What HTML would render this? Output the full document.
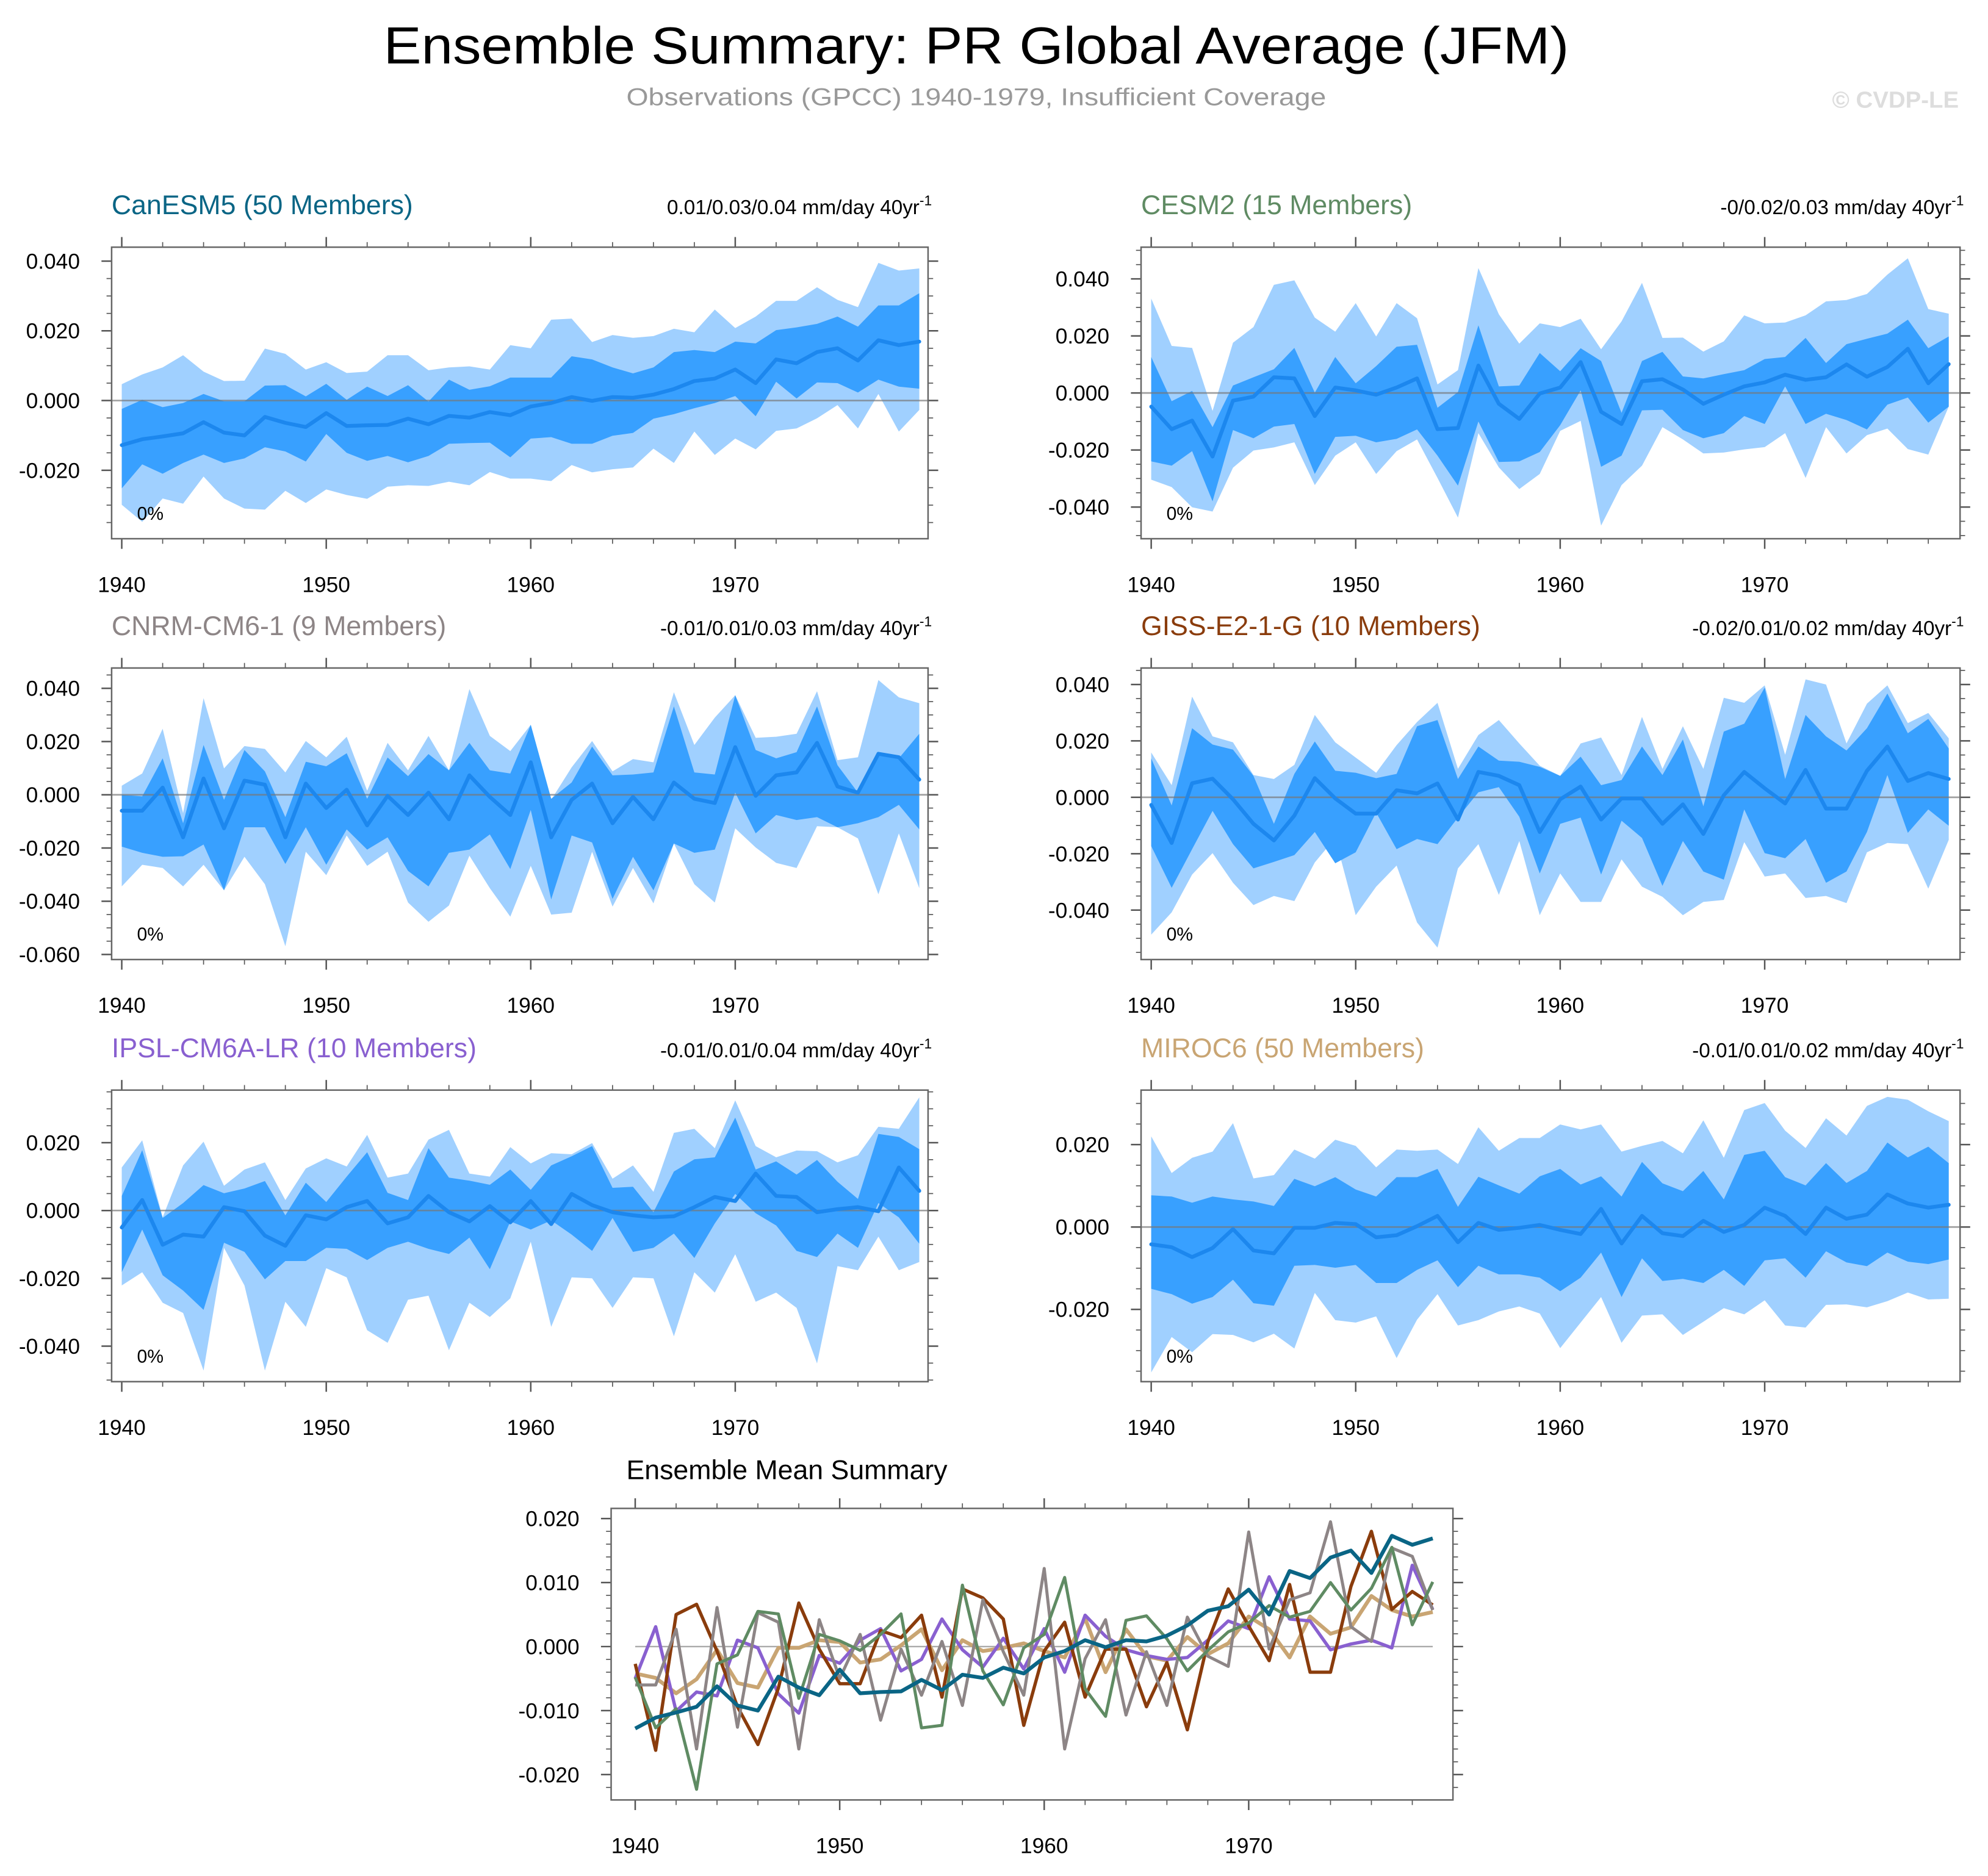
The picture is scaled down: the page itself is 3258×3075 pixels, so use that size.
<!DOCTYPE html>
<html><head><meta charset="utf-8"><title>Ensemble Summary: PR Global Average (JFM)</title>
<style>html,body{margin:0;padding:0;background:#fff}svg{display:block}text{font-family:"Liberation Sans",Arial,sans-serif}</style>
</head><body>
<svg id="chart" xmlns="http://www.w3.org/2000/svg" width="3258" height="3075" viewBox="0 0 1568 1480">
<rect x="0" y="0" width="1568" height="1480" fill="#fff"/>
<text x="770" y="50" font-size="41" text-anchor="middle" textLength="935" lengthAdjust="spacingAndGlyphs" fill="#000">Ensemble Summary: PR Global Average (JFM)</text>
<text x="770" y="83" font-size="19" text-anchor="middle" textLength="552" lengthAdjust="spacingAndGlyphs" fill="#999">Observations (GPCC) 1940-1979, Insufficient Coverage</text>
<text x="1545" y="85" font-size="18.5" font-weight="bold" text-anchor="end" fill="#ddd">© CVDP-LE</text>
<g id="plots"></g>
</svg>
<script>
// ---- data (values in 0.001 mm/day) ----
const startYear = 1940;
const nYears = 40;
const modelNames = ["CanESM5 (50 Members)","CESM2 (15 Members)","CNRM-CM6-1 (9 Members)","GISS-E2-1-G (10 Members)","IPSL-CM6A-LR (10 Members)","MIROC6 (50 Members)"];
const trendLabels = ["0.01/0.03/0.04 mm/day 40yr","-0/0.02/0.03 mm/day 40yr","-0.01/0.01/0.03 mm/day 40yr","-0.02/0.01/0.02 mm/day 40yr","-0.01/0.01/0.04 mm/day 40yr","-0.01/0.01/0.02 mm/day 40yr"];

const canMean = [-12.8,-11.1,-10.3,-9.4,-6.2,-9.2,-10.0,-4.7,-6.4,-7.6,-3.6,-7.3,-7.1,-7.0,-5.2,-6.8,-4.4,-4.9,-3.3,-4.2,-1.7,-0.7,1.0,-0.1,1.0,0.8,1.7,3.3,5.6,6.3,8.9,5.0,11.8,10.7,13.9,15.0,11.5,17.3,15.9,16.9];
const canInHi = [-2.4,0.2,-1.9,-0.7,1.9,-0.2,-0.2,4.3,4.4,1.2,4.8,0.2,4.0,1.3,4.4,-0.3,6.0,3.1,4.1,6.6,6.6,6.6,12.7,11.8,9.5,7.8,9.5,13.9,14.5,13.9,16.9,16.4,20.2,21.0,22.0,24.1,21.2,27.3,27.3,30.8];
const canInLo = [-25.2,-18.3,-21.0,-17.9,-15.5,-17.9,-16.6,-13.4,-14.6,-17.5,-9.6,-15.0,-17.3,-15.9,-17.7,-15.9,-12.4,-12.2,-12.1,-16.3,-10.9,-10.5,-12.4,-12.4,-10.1,-9.3,-5.2,-3.9,-2.2,-0.7,1.3,-4.5,5.4,0.6,5.2,5.0,2.3,6.0,4.0,3.4];
const canOutHi = [4.7,7.5,9.5,13.0,8.3,5.6,5.7,14.9,13.4,8.9,11.0,7.9,8.3,13.0,13.0,8.7,9.5,9.8,8.9,15.9,15.0,23.2,23.5,16.8,18.8,18.0,18.5,20.6,19.6,26.1,20.8,24.1,28.6,28.6,32.5,28.9,26.8,39.5,37.3,37.9];
const canOutLo = [-29.9,-34.8,-28.1,-29.6,-21.8,-28.1,-31.0,-31.3,-25.9,-29.4,-25.5,-27.1,-28.2,-24.7,-24.3,-24.5,-23.3,-24.3,-20.5,-22.4,-22.4,-23.1,-18.5,-20.6,-19.7,-19.2,-13.8,-17.9,-8.9,-15.6,-10.9,-14.0,-8.7,-8.0,-5.1,-1.3,-8.0,1.9,-8.9,-2.7];

const cesmMean = [-4.8,-12.7,-9.7,-22.3,-2.7,-1.3,5.5,5.1,-8.1,1.9,0.9,-0.6,1.9,5.1,-12.7,-12.3,9.6,-3.8,-9.1,-0.2,1.9,10.8,-6.6,-10.9,4.1,4.8,1.2,-3.8,-0.6,2.3,3.7,6.4,4.6,5.5,10.0,5.7,9.1,15.5,3.4,10.1];
const cesmInHi = [12.6,-2.9,0.7,-12.0,2.6,5.5,8.3,15.8,0.1,12.6,3.4,9.4,16.2,16.9,-5.2,0.3,23.7,2.3,2.6,14.0,7.6,15.7,11.2,-7.0,11.2,14.4,5.8,5.1,6.6,8.0,11.9,12.6,19.3,10.5,17.1,19.0,20.8,25.7,15.7,19.8];
const cesmInLo = [-24.0,-25.5,-20.4,-38.0,-13.0,-15.9,-11.8,-10.9,-28.4,-15.4,-15.0,-17.3,-16.1,-12.8,-22.0,-32.5,-10.0,-24.2,-24.0,-20.7,-11.3,0.9,-25.9,-22.0,-6.1,-5.9,-13.0,-15.9,-14.1,-8.1,-10.9,2.3,-10.9,-7.3,-9.5,-12.8,-4.1,-1.6,-10.4,-4.8];
const cesmOutHi = [33.1,16.5,15.8,-6.3,17.6,23.1,37.9,39.5,26.4,21.5,31.5,19.8,31.5,26.2,3.0,8.0,43.8,27.6,17.3,24.4,23.1,26.0,15.3,25.1,38.6,19.3,19.4,14.5,18.1,27.2,24.4,24.7,27.2,32.1,32.6,34.7,41.5,47.2,29.4,27.8];
const cesmOutLo = [-30.4,-33.0,-40.1,-41.6,-26.2,-20.2,-19.1,-17.3,-32.3,-22.0,-17.3,-28.4,-20.4,-16.3,-29.8,-43.7,-14.1,-26.1,-33.7,-28.4,-13.3,-9.8,-46.5,-32.3,-25.5,-12.0,-16.3,-21.2,-20.9,-19.8,-19.0,-14.1,-29.8,-12.0,-21.2,-14.8,-12.5,-19.7,-21.6,-4.8];

const cnrmMean = [-6.0,-6.0,2.7,-16.0,6.1,-12.6,5.3,3.8,-16.0,4.2,-5.0,1.9,-11.5,-0.4,-7.6,0.8,-9.2,7.3,-0.8,-7.6,12.2,-16.0,-1.9,4.2,-10.7,-0.8,-9.2,4.6,-1.5,-3.1,17.9,-0.4,7.3,8.4,19.5,3.1,0.8,15.4,14.1,5.7];
const cnrmInHi = [0.0,-0.6,13.7,-10.7,18.7,-1.9,16.8,8.8,-8.4,12.4,10.7,15.6,-1.5,14.0,7.0,15.3,9.2,19.5,9.2,8.0,26.3,-1.5,4.6,18.1,7.3,7.6,8.4,33.2,8.4,7.6,37.4,16.8,13.7,16.0,33.2,11.1,0.8,15.7,13.7,22.9];
const cnrmInLo = [-19.5,-21.8,-23.3,-23.1,-18.7,-35.9,-12.2,-12.2,-26.0,-12.2,-26.3,-13.0,-20.6,-16.0,-28.6,-34.4,-21.8,-20.6,-14.9,-27.9,-5.7,-39.3,-15.3,-17.9,-39.1,-23.3,-35.9,-18.3,-21.8,-20.6,0.8,-14.5,-7.6,-9.5,-8.4,-12.2,-10.7,-8.4,-3.8,-13.0];
const cnrmOutHi = [3.4,8.0,24.8,-6.9,36.3,9.9,18.3,17.2,8.4,20.2,14.1,21.8,1.5,19.5,9.2,22.1,9.2,39.7,22.1,16.4,26.3,-1.9,10.3,20.2,8.8,13.4,12.2,38.5,18.7,29.0,37.4,21.4,21.8,22.9,38.9,13.0,14.1,43.1,36.6,34.4];
const cnrmOutLo = [-34.4,-26.3,-27.5,-34.4,-26.3,-35.9,-23.3,-33.6,-56.9,-21.4,-30.2,-15.3,-26.7,-21.4,-40.5,-47.7,-41.6,-22.9,-35.1,-45.8,-26.7,-45.0,-44.3,-21.4,-42.0,-27.5,-40.8,-18.3,-33.6,-40.5,-12.6,-19.8,-25.6,-27.5,-11.8,-12.2,-16.4,-37.4,-14.5,-35.1];

const gissMean = [-2.7,-16.2,5.0,6.6,-0.7,-9.4,-15.3,-6.5,6.8,-0.4,-5.8,-5.8,2.5,1.4,4.9,-7.9,9.0,7.6,4.3,-12.3,-0.7,3.8,-7.9,-0.4,-0.4,-9.4,-2.5,-13.0,0.7,9.0,3.2,-2.2,9.7,-4.0,-4.0,9.4,18.0,5.8,8.6,6.5];
const gissInHi = [13.8,-2.9,24.5,18.7,16.9,7.6,-9.4,8.3,19.8,9.4,8.7,6.8,8.3,25.2,27.4,6.5,18.0,13.0,12.6,10.8,7.6,14.4,4.3,6.1,18.0,7.9,20.5,-3.2,23.3,26.1,38.9,6.5,29.2,21.6,16.6,24.5,36.8,22.7,27.8,17.3];
const gissInLo = [-17.3,-32.1,-18.4,-4.8,-16.6,-25.2,-22.9,-20.5,-12.3,-23.4,-19.5,-5.4,-18.4,-14.8,-16.6,-7.2,1.8,3.6,-6.9,-27.0,-9.4,-7.2,-27.4,-8.3,-14.4,-31.4,-15.5,-26.3,-29.2,-4.3,-19.8,-21.6,-14.8,-30.3,-26.3,-12.3,7.9,-12.6,-4.3,-10.1];
const gissOutHi = [15.9,4.3,35.7,21.6,19.5,7.9,6.5,11.5,29.2,19.5,14.1,8.7,18.5,26.7,33.5,10.1,22.1,27.4,19.1,11.2,7.6,19.1,21.2,7.9,28.5,10.1,25.2,10.1,35.3,33.5,39.7,15.1,41.8,40.0,19.1,33.2,39.7,26.3,29.9,20.9];
const gissOutLo = [-48.7,-40.8,-27.4,-19.8,-30.3,-38.2,-35.0,-36.8,-23.1,-14.4,-41.8,-31.7,-24.2,-44.4,-53.3,-25.2,-16.6,-34.6,-15.5,-41.8,-27.0,-37.1,-37.1,-22.0,-31.7,-35.3,-41.8,-37.1,-36.4,-15.9,-28.1,-27.0,-35.7,-35.0,-37.5,-19.5,-16.2,-16.6,-32.4,-15.1];

const ipslMean = [-5.0,3.1,-10.1,-7.1,-7.7,1.0,-0.2,-7.4,-10.4,-1.4,-2.6,1.0,2.8,-3.8,-2.0,4.3,-0.5,-3.2,1.3,-3.5,2.8,-4.0,4.9,1.6,-0.5,-1.4,-2.0,-1.7,1.0,4.0,2.8,10.9,4.3,4.0,-0.5,0.4,1.0,-0.2,12.7,5.8];
const ipslInHi = [4.3,17.8,-2.2,2.2,7.5,5.1,6.5,8.7,-1.4,8.2,2.5,10.0,17.2,5.2,3.1,18.4,9.7,8.8,7.6,12.1,6.1,13.3,16.0,19.0,6.7,7.0,-0.5,11.5,15.1,15.7,27.4,12.1,14.5,10.6,14.9,8.5,3.4,22.6,21.7,18.1];
const ipslInLo = [-18.2,-5.6,-19.1,-23.6,-29.3,-9.5,-12.2,-20.3,-14.9,-14.9,-11.0,-11.3,-14.6,-11.0,-9.2,-11.3,-12.8,-8.0,-17.3,-3.2,-5.6,-2.9,-7.1,-11.9,-2.2,-12.2,-11.0,-6.8,-14.0,-3.8,4.9,-0.8,-4.4,-11.9,-13.7,-6.8,-11.0,2.2,-2.0,-9.8];
const ipslOutHi = [12.7,20.7,-2.0,13.3,20.3,7.3,12.1,14.2,3.1,12.4,15.4,13.0,22.3,9.7,10.9,20.9,23.8,10.9,10.0,18.7,13.9,16.9,16.6,19.9,9.4,13.3,5.5,22.9,24.1,18.4,32.5,19.0,15.7,17.7,17.5,14.2,16.3,24.7,24.1,33.4];
const ipslOutLo = [-22.1,-18.2,-27.2,-30.2,-47.2,-11.0,-22.1,-47.2,-26.9,-34.3,-17.0,-19.7,-35.3,-39.0,-26.3,-25.1,-41.2,-27.2,-31.4,-25.9,-9.2,-34.3,-19.7,-20.0,-28.7,-19.7,-20.0,-37.1,-18.2,-24.2,-12.9,-26.9,-24.2,-28.7,-45.1,-16.4,-17.6,-7.7,-17.6,-15.2];

const mirocMean = [-4.2,-4.9,-7.3,-5.1,-0.5,-5.7,-6.4,-0.2,-0.2,1.0,0.7,-2.5,-2.0,0.2,2.7,-3.7,1.0,-0.7,-0.2,0.5,-0.7,-1.7,4.4,-4.0,2.7,-1.5,-2.2,1.5,-1.2,0.5,4.7,2.7,-1.7,4.7,2.0,3.0,7.9,5.7,4.7,5.4];
const mirocInHi = [7.7,7.4,5.9,7.4,6.7,6.2,5.1,11.7,9.9,12.1,9.1,7.4,12.1,12.1,14.1,4.9,12.2,10.1,8.1,12.3,14.1,10.3,12.3,7.4,15.8,10.6,8.7,13.6,6.7,17.5,18.5,12.1,10.1,15.5,10.7,13.6,20.5,16.9,19.5,15.5];
const mirocInLo = [-15.0,-16.3,-18.6,-17.0,-12.8,-18.5,-19.1,-9.4,-9.2,-9.9,-9.2,-13.6,-13.6,-10.4,-8.1,-14.6,-9.4,-11.5,-11.5,-12.3,-15.6,-12.3,-6.2,-17.0,-7.6,-13.1,-12.6,-13.6,-10.4,-14.3,-8.1,-7.6,-12.3,-5.9,-8.6,-9.5,-6.2,-8.4,-9.0,-7.9];
const mirocOutHi = [22.0,13.1,16.8,18.3,25.2,11.8,12.6,18.8,16.6,21.2,19.7,14.5,18.8,18.5,18.8,15.3,24.2,18.5,21.6,21.6,24.9,23.7,24.9,18.3,19.7,20.9,17.9,25.9,16.8,28.4,30.1,23.4,19.2,26.4,22.2,29.4,31.6,30.9,28.1,25.7];
const mirocOutLo = [-35.3,-26.7,-30.4,-26.0,-26.2,-28.0,-25.9,-29.5,-16.0,-22.6,-23.2,-21.7,-31.8,-22.5,-16.3,-23.9,-22.6,-20.5,-19.3,-21.0,-29.4,-23.2,-17.0,-28.1,-21.5,-21.2,-26.2,-23.0,-19.7,-21.2,-17.8,-23.9,-24.4,-18.9,-18.8,-19.5,-18.0,-15.9,-17.6,-17.4];

const panel1Ticks = [40,20,0,-20];
const panel2Ticks = [40,20,0,-20,-40];
const panel3Ticks = [40,20,0,-20,-40,-60];
const panel4Ticks = [40,20,0,-20,-40];
const panel5Ticks = [20,0,-20,-40];
const panel6Ticks = [20,0,-20];
const summaryTicks = [20,10,0,-10,-20];
const xTickLabels = [1940,1950,1960,1970];

// ---- rendering ----
const NS = "http://www.w3.org/2000/svg";
const root = document.getElementById("plots");
function el(tag, attrs, parent) {
  const e = document.createElementNS(NS, tag);
  for (const k in attrs) e.setAttribute(k, attrs[k]);
  (parent || root).appendChild(e);
  return e;
}
const modelColors = ["#0a6585","#5f8b63","#8d8586","#8a3c0c","#8960d0","#c9a573"];
const panels = [
  {name:"canesm5", box:[88,195,644,230], x0:96, zero:316, k:2.75, mean:canMean, inHi:canInHi, inLo:canInLo, outHi:canOutHi, outLo:canOutLo, ticks:panel1Ticks, tmin:-35, tmax:40},
  {name:"cesm2", box:[900,195,646,230], x0:908, zero:310, k:2.25, mean:cesmMean, inHi:cesmInHi, inLo:cesmInLo, outHi:cesmOutHi, outLo:cesmOutLo, ticks:panel2Ticks, tmin:-50, tmax:50},
  {name:"cnrm-cm6-1", box:[88,527,644,230], x0:96, zero:627, k:2.1, mean:cnrmMean, inHi:cnrmInHi, inLo:cnrmInLo, outHi:cnrmOutHi, outLo:cnrmOutLo, ticks:panel3Ticks, tmin:-60, tmax:45},
  {name:"giss-e2-1-g", box:[900,527,646,230], x0:908, zero:629, k:2.225, mean:gissMean, inHi:gissInHi, inLo:gissInLo, outHi:gissOutHi, outLo:gissOutLo, ticks:panel4Ticks, tmin:-55, tmax:45},
  {name:"ipsl-cm6a-lr", box:[88,860,644,230], x0:96, zero:955, k:2.675, mean:ipslMean, inHi:ipslInHi, inLo:ipslInLo, outHi:ipslOutHi, outLo:ipslOutLo, ticks:panel5Ticks, tmin:-50, tmax:35},
  {name:"miroc6", box:[900,860,646,230], x0:908, zero:968, k:3.25, mean:mirocMean, inHi:mirocInHi, inLo:mirocInLo, outHi:mirocOutHi, outLo:mirocOutLo, ticks:panel6Ticks, tmin:-35, tmax:30}
];
const xStep = 16.13;
function fmt(v){ const s=(Math.abs(v)/1000).toFixed(3); return v<0? "-"+s : s; }

function drawAxes(g, p, yStepMinor, labelSize) {
  const [bx,by,bw,bh] = p.box;
  const xs = y => p.x0 + (y - startYear) * xStep;
  const ys = v => p.zero - v * p.k;
  for (let yr = startYear; yr < startYear + nYears; yr += 2) {
    const major = (yr % 10 === 0);
    const L = major ? 8 : 4;
    const x = xs(yr);
    el("line",{x1:x,y1:by+bh,x2:x,y2:by+bh+L,stroke:"#555","stroke-width":major?1.2:0.8},g);
    el("line",{x1:x,y1:by,x2:x,y2:by-L,stroke:"#555","stroke-width":major?1.2:0.8},g);
  }
  xTickLabels.forEach(yr=>{
    const t = el("text",{x:xs(yr),y:by+bh+42,"font-size":labelSize,"text-anchor":"middle",fill:"#000"},g);
    
    
    t.textContent = yr;
  });
  for (let v = Math.ceil(p.tmin/yStepMinor)*yStepMinor; v <= p.tmax; v += yStepMinor) {
    const y = ys(v);
    if (y < by - 0.5 || y > by + bh + 0.5) continue;
    const major = p.ticks.indexOf(v) >= 0;
    const L = major ? 8 : 4;
    el("line",{x1:bx,y1:y,x2:bx-L,y2:y,stroke:"#555","stroke-width":major?1.2:0.8},g);
    el("line",{x1:bx+bw,y1:y,x2:bx+bw+L,y2:y,stroke:"#555","stroke-width":major?1.2:0.8},g);
  }
  p.ticks.forEach(v=>{
    const t = el("text",{x:bx-25,y:ys(v)+6,"font-size":labelSize,"text-anchor":"end",fill:"#000"},g);
    
    
    t.textContent = fmt(v);
  });
  el("rect",{x:bx,y:by,width:bw,height:bh,fill:"none",stroke:"#666","stroke-width":1.2},g);
}

function bandPath(hi, lo, xs, ys) {
  let d = "";
  hi.forEach((v,i)=>{ d += (i?"L":"M") + xs(startYear+i).toFixed(2) + "," + ys(v).toFixed(2); });
  for (let i = lo.length-1; i >= 0; i--) d += "L" + xs(startYear+i).toFixed(2) + "," + ys(lo[i]).toFixed(2);
  return d + "Z";
}
function linePath(arr, xs, ys) {
  let d = "";
  arr.forEach((v,i)=>{ d += (i?"L":"M") + xs(startYear+i).toFixed(2) + "," + ys(v).toFixed(2); });
  return d;
}

panels.forEach((p, idx) => {
  const g = el("g",{});
  
  
  const [bx,by,bw,bh] = p.box;
  const xs = y => p.x0 + (y - startYear) * xStep;
  const ys = v => p.zero - v * p.k;
  const outer = el("path",{d:bandPath(p.outHi,p.outLo,xs,ys),fill:"#a0d0ff"},g);
  
  
  const inner = el("path",{d:bandPath(p.inHi,p.inLo,xs,ys),fill:"#38a0ff"},g);
  
  
  el("line",{x1:bx,y1:ys(0),x2:bx+bw,y2:ys(0),stroke:"#777","stroke-width":1.3,"stroke-opacity":0.7},g);
  const ml = el("path",{d:linePath(p.mean,xs,ys),fill:"none",stroke:"#1c87ee","stroke-width":3,"stroke-linejoin":"round","stroke-linecap":"round"},g);
  
  
  drawAxes(g, p, 5, 17);
  const pct = el("text",{x:bx+20,y:by+bh-15,"font-size":14.5,fill:"#000"},g);
  
  
  pct.textContent = "0%";
  const title = el("text",{x:bx,y:by-26,"font-size":21.5,fill:modelColors[idx]},g);
  
  
  title.textContent = modelNames[idx];
  const tr = el("text",{x:bx+bw+3,y:by-26,"font-size":16,"text-anchor":"end",fill:"#000"},g);
  
  
  tr.appendChild(document.createTextNode(trendLabels[idx]));
  const sup = document.createElementNS(NS,"tspan");
  sup.setAttribute("dy","-7"); sup.setAttribute("font-size","11");
  sup.textContent = "-1";
  tr.appendChild(sup);
});

(function(){
  const p = {box:[482,1190,664,230], x0:501, zero:1299, k:5.05, ticks:summaryTicks, tmin:-22, tmax:22};
  const g = el("g",{});
  
  
  const xs = y => p.x0 + (y - startYear) * xStep;
  const ys = v => p.zero - v * p.k;
  el("line",{x1:p.x0,y1:ys(0),x2:xs(1979),y2:ys(0),stroke:"#aaa","stroke-width":1.2},g);
  const order = [5,4,3,2,1,0];
  const means = [canMean,cesmMean,cnrmMean,gissMean,ipslMean,mirocMean];
  const widths = [3,2.4,2.4,2.6,2.6,3];
  order.forEach(i=>{
    const l = el("path",{d:linePath(means[i],xs,ys),fill:"none",stroke:modelColors[i],"stroke-width":widths[i],"stroke-linejoin":"round"},g);
    
    
  });
  drawAxes(g, p, 2, 17);
  const t = el("text",{x:494,y:1167,"font-size":21.5,fill:"#000"},g);
  
  
  t.textContent = "Ensemble Mean Summary";
})();
</script>
</body></html>
